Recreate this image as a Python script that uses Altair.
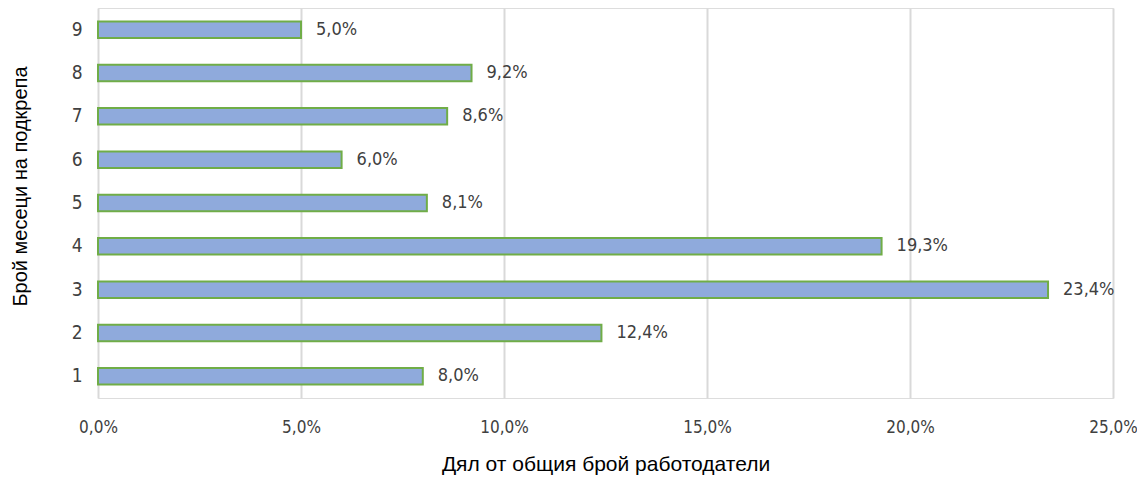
import altair as alt
import pandas as pd

months = ["1", "2", "3", "4", "5", "6", "7", "8", "9"]
shares = [8.0, 12.4, 23.4, 19.3, 8.1, 6.0, 8.6, 9.2, 5.0]
labels = [f"{v:.1f}".replace(".", ",") + "%" for v in shares]

df = pd.DataFrame({"month": months, "share": [v / 100 for v in shares], "label": labels})

FONT = "Liberation Sans Narrow, DejaVu Sans Condensed, Liberation Sans, sans-serif"
TFONT = "Liberation Sans, Arial, sans-serif"
TXT = "#404040"

base = alt.Chart(df)

y_enc = alt.Y(
    "month:N",
    sort=months[::-1],
    scale=alt.Scale(paddingInner=0.62, paddingOuter=0.31),
    axis=alt.Axis(
        title="Брой месеци на подкрепа",
        domain=False,
        ticks=False,
        labelFont=FONT,
        labelFontSize=19,
        labelColor=TXT,
        labelPadding=16,
        titleFont=TFONT,
        titleFontSize=20,
        titleFontWeight="normal",
        titleColor="#000000",
        titleX=-78,
        titleY=178,
        titleAngle=-90,
        titleAlign="center",
        titleBaseline="middle",
    ),
)

x_enc = alt.X(
    "share:Q",
    scale=alt.Scale(domain=[0, 0.25], nice=False),
    axis=alt.Axis(
        title="Дял от общия брой работодатели",
        values=[0, 0.05, 0.10, 0.15, 0.20, 0.25],
        labelExpr="replace(format(datum.value, '.1%'), '.', ',')",
        labelFlush=False,
        domain=False,
        ticks=False,
        grid=True,
        gridColor="#D9D9D9",
        gridWidth=2,
        labelFont=FONT,
        labelFontSize=17,
        labelColor=TXT,
        labelPadding=21,
        titleFont=TFONT,
        titleFontSize=21,
        titleFontWeight="normal",
        titleColor="#000000",
        titlePadding=18,
    ),
)

bars = base.mark_bar(
    color="#8FAADC", stroke="#70AD47", strokeWidth=2
).encode(x=x_enc, y=y_enc)

text = base.mark_text(
    align="left", baseline="middle", dx=15, font=FONT, fontSize=18, color=TXT
).encode(x="share:Q", y=alt.Y("month:N", sort=months[::-1]), text="label:N")

chart = (
    alt.layer(bars, text)
    .properties(width=1015, height=390, autosize="none",
                padding={"left": 90, "top": 0, "right": 24, "bottom": 80})
    .configure_view(stroke=None)
    .configure(background="white")
)

chart.save("out.html", embed_options={"renderer": "svg", "actions": False})
